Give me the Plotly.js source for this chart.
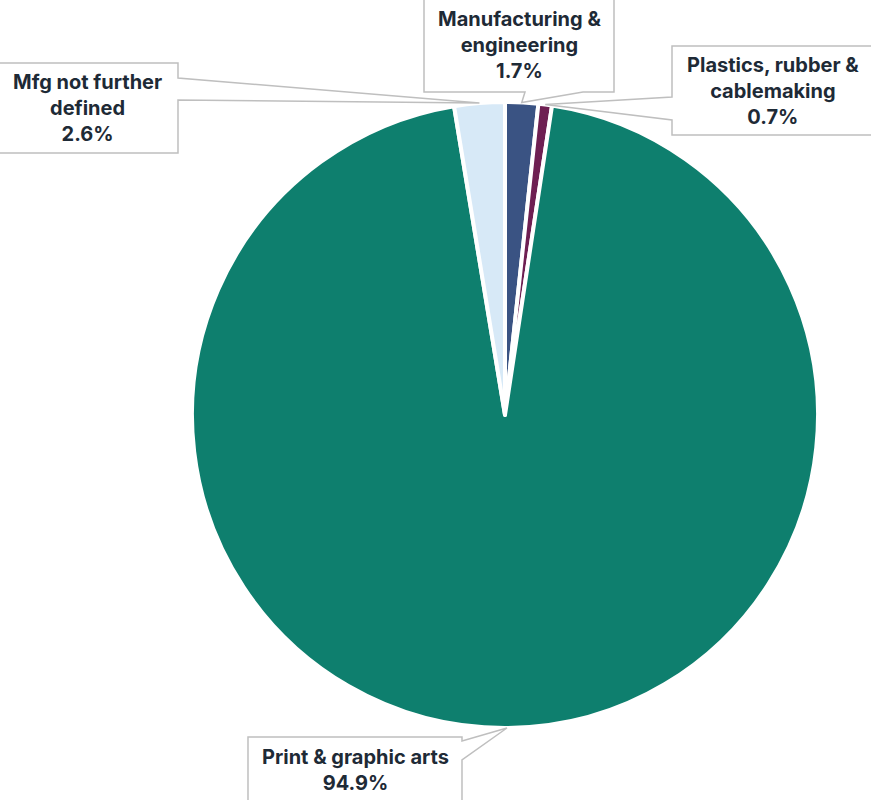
<!DOCTYPE html>
<html>
<head>
<meta charset="utf-8">
<script src="https://cdn.plot.ly/plotly-3.0.1.min.js"></script>
<style>html,body{margin:0;padding:0;background:#fff;}#chart{width:871px;height:800px;}</style>
</head>
<body>
<div id="chart"></div>
<script>
const categories = ["Manufacturing & engineering", "Plastics, rubber & cablemaking", "Print & graphic arts", "Mfg not further defined"];
const labelLines = ["Manufacturing &<br>engineering", "Plastics, rubber &<br>cablemaking", "Print & graphic arts", "Mfg not further<br>defined"];
const shares = [1.7, 0.7, 94.9, 2.6];
const colors = ["#3a5383", "#6e1f52", "#0e7f6e", "#d7e9f7"];

const W = 871, H = 800;
const cx = 505, cy = 415, R = 313;
const px = x => x / W;
const py = y => 1 - y / H;

// callout boxes (pixel layout): box rect, wedge base side
const boxes = [
  {x0: 424, x1: 614, y0: -2, y1: 92, side: "bottom", b0: 525, b1: 583},
  {x0: 672, x1: 874, y0: 46, y1: 135, side: "left", b0: 97, b1: 120},
  {x0: 248, x1: 462, y0: 737, y1: 803, side: "right", b0: 741, b1: 760},
  {x0: -3, x1: 178, y0: 63, y1: 153, side: "right", b0: 78, b1: 100}
];

const total = shares.reduce((a, b) => a + b, 0);
let cum = 0;
const shapes = [], annotations = [];
shares.forEach((v, i) => {
  const mid = (cum + v / 2) / total * 2 * Math.PI;
  cum += v;
  const tx = cx + R * Math.sin(mid), ty = cy - R * Math.cos(mid);
  const b = boxes[i];
  let pts;
  if (b.side === "bottom") {
    pts = [[b.x0, b.y0], [b.x1, b.y0], [b.x1, b.y1], [b.b1, b.y1], [tx, ty], [b.b0, b.y1], [b.x0, b.y1]];
  } else if (b.side === "left") {
    pts = [[b.x0, b.y0], [b.x1, b.y0], [b.x1, b.y1], [b.x0, b.y1], [b.x0, b.b1], [tx, ty], [b.x0, b.b0]];
  } else {
    pts = [[b.x0, b.y0], [b.x1, b.y0], [b.x1, b.b0], [tx, ty], [b.x1, b.b1], [b.x1, b.y1], [b.x0, b.y1]];
  }
  const path = pts.map((p, k) => (k ? "L" : "M") + px(p[0]).toFixed(5) + "," + py(p[1]).toFixed(5)).join(" ") + " Z";
  shapes.push({type: "path", xref: "paper", yref: "paper", path: path,
    fillcolor: "#ffffff", line: {color: "#bfbfbf", width: 1.5}, layer: "above"});
  annotations.push({xref: "paper", yref: "paper", x: px((b.x0 + b.x1) / 2), y: py((b.y0 + b.y1) / 2),
    xanchor: "center", yanchor: "middle", showarrow: false, align: "center",
    text: labelLines[i] + "<br>" + v.toFixed(1) + "%",
    font: {family: "Inter, 'Noto Sans', sans-serif", size: 20, color: "#1e2a36", weight: 700}});
});

const data = [{
  type: "pie",
  labels: categories,
  values: shares,
  sort: false,
  direction: "clockwise",
  rotation: 0,
  textinfo: "none",
  hoverinfo: "label+percent",
  marker: {colors: colors, line: {color: "#ffffff", width: 4}},
  domain: {x: [px(cx - R), px(cx + R)], y: [py(cy + R), py(cy - R)]},
  showlegend: false
}];

const layout = {
  width: W, height: H,
  margin: {l: 0, r: 0, t: 0, b: 0},
  paper_bgcolor: "#ffffff",
  showlegend: false,
  shapes: shapes,
  annotations: annotations
};
Plotly.newPlot("chart", data, layout, {displayModeBar: false, staticPlot: true});
</script>
</body>
</html>
